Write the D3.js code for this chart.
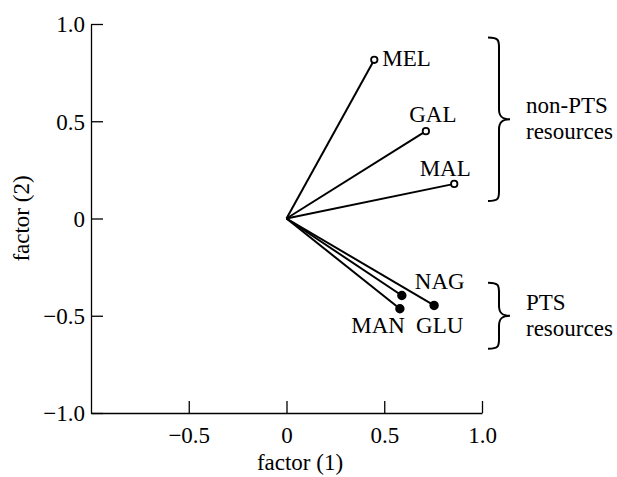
<!DOCTYPE html>
<html>
<head>
<meta charset="utf-8">
<script src="https://cdn.jsdelivr.net/npm/d3@7"></script>
<style>
  html, body { margin: 0; padding: 0; background: #fff; }
  svg text { font-family: "Liberation Serif", "Times New Roman", serif; fill: #000; }
</style>
</head>
<body>
<div id="chart"></div>
<script>
// ── Datos ────────────────────────────────────────────────────────────────
const names   = ["MEL", "GAL", "MAL", "NAG", "GLU", "MAN"];
const factor1 = [0.449, 0.713, 0.858, 0.590, 0.755, 0.580];
const factor2 = [0.816, 0.449, 0.178, -0.396, -0.447, -0.464];
const isPTS   = [false, false, false, true, true, true];

const xTicks = [-0.5, 0, 0.5, 1.0];
const yTicks = [-1.0, -0.5, 0, 0.5, 1.0];
const tickFmt = v => v === 0 ? "0" : (v < 0 ? "\u2212" : "") + Math.abs(v).toFixed(1);

const groups = [
  { lines: ["non-PTS", "resources"], from: 0.93, to: 0.09 },
  { lines: ["PTS", "resources"], from: -0.33, to: -0.67 },
];

// ── Estilos de etiquetas (desplazamiento respecto al punto) ─────────────
const labelStyle = {
  MEL: { dx: 8, dy: 6, anchor: "start" },
  GAL: { dx: 7, dy: -9, anchor: "middle" },
  MAL: { dx: -9, dy: -8, anchor: "middle" },
  NAG: { dx: 13, dy: -7, anchor: "start" },
  GLU: { dx: -18, dy: 28, anchor: "start" },
  MAN: { dx: 5, dy: 24, anchor: "end" },
};

// ── Lienzo ───────────────────────────────────────────────────────────────
const width = 617, height = 477;
const svg = d3.select("#chart").append("svg")
  .attr("width", width).attr("height", height)
  .attr("viewBox", [0, 0, width, height]);

const x = d3.scaleLinear().domain([-1, 1]).range([91, 482]);
const y = d3.scaleLinear().domain([-1, 1]).range([413, 24]);

const FS = 23;

// ── Ejes ─────────────────────────────────────────────────────────────────
const gx = svg.append("g").attr("transform", `translate(0,${y(-1)})`)
  .call(d3.axisBottom(x).tickValues(xTicks).tickFormat(tickFmt).tickSizeOuter(0));
const gy = svg.append("g").attr("transform", `translate(${x(-1)},0)`)
  .call(d3.axisLeft(y).tickValues(yTicks).tickFormat(tickFmt).tickSizeOuter(0));

[gx, gy].forEach(g => {
  g.select(".domain").attr("stroke", "#000").attr("stroke-width", 1.3);
  g.selectAll(".tick line").attr("stroke", "#000").attr("stroke-width", 1.3);
  g.selectAll(".tick text").attr("font-size", FS).attr("font-family", "Liberation Serif, serif").attr("fill", "#000");
});
gy.selectAll(".tick line").attr("x2", 12);
gx.selectAll(".tick line").attr("y2", -12);
gy.selectAll(".tick text").attr("x", -6).attr("dy", "0.34em");
gx.selectAll(".tick text").attr("y", 30).attr("dy", 0);

svg.append("text")
  .attr("x", 300).attr("y", 470)
  .attr("text-anchor", "middle").attr("font-size", FS)
  .text("factor (1)");
svg.append("text")
  .attr("transform", `translate(29,${y(0)}) rotate(-90)`)
  .attr("text-anchor", "middle").attr("font-size", FS)
  .text("factor (2)");

// ── Vectores ─────────────────────────────────────────────────────────────
const data = names.map((n, i) => ({ name: n, f1: factor1[i], f2: factor2[i], pts: isPTS[i] }));

svg.append("g").selectAll("line").data(data).join("line")
  .attr("x1", x(0)).attr("y1", y(0))
  .attr("x2", d => x(d.f1)).attr("y2", d => y(d.f2))
  .attr("stroke", "#000").attr("stroke-width", 2);

svg.append("g").selectAll("circle").data(data).join("circle")
  .attr("cx", d => x(d.f1)).attr("cy", d => y(d.f2))
  .attr("r", d => d.pts ? 3.8 : 3.2)
  .attr("fill", d => d.pts ? "#000" : "#fff")
  .attr("stroke", "#000").attr("stroke-width", 1.8);

svg.append("g").selectAll("text").data(data).join("text")
  .attr("x", d => x(d.f1) + labelStyle[d.name].dx)
  .attr("y", d => y(d.f2) + labelStyle[d.name].dy)
  .attr("text-anchor", d => labelStyle[d.name].anchor)
  .attr("font-size", FS)
  .text(d => d.name);

// ── Llaves ───────────────────────────────────────────────────────────────
function bracePath(x0, y0, y1, w) {
  const ym = (y0 + y1) / 2;
  const xm = x0 + w * 0.5;
  const r = 10;
  return `M${x0},${y0} C${xm},${y0} ${xm},${y0 + 3} ${xm},${y0 + r}` +
    ` L${xm},${ym - r} C${xm},${ym - 3} ${xm + 3},${ym} ${x0 + w},${ym}` +
    ` C${xm + 3},${ym} ${xm},${ym + 3} ${xm},${ym + r}` +
    ` L${xm},${y1 - r} C${xm},${y1 - 3} ${xm},${y1} ${x0},${y1}`;
}

groups.forEach(g => {
  const y0 = y(g.from), y1 = y(g.to);
  svg.append("path")
    .attr("d", bracePath(488, y0, y1, 22))
    .attr("fill", "none").attr("stroke", "#000").attr("stroke-width", 2);
  const ym = (y0 + y1) / 2;
  const t = svg.append("text").attr("font-size", FS);
  g.lines.forEach((line, i) => {
    t.append("tspan")
      .attr("x", 526)
      .attr("y", ym - 6 + i * 26)
      .text(line);
  });
});
</script>
</body>
</html>
